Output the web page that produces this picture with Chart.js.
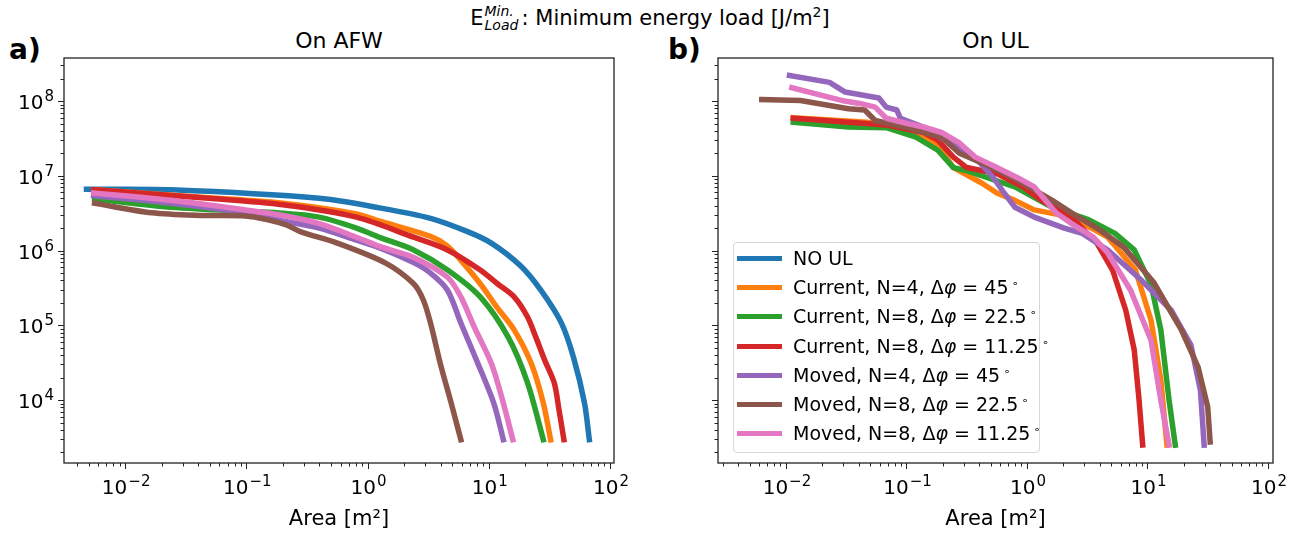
<!DOCTYPE html>
<html>
<head>
<meta charset="utf-8">
<script src="https://cdn.jsdelivr.net/npm/chart.js@4.4.1/dist/chart.umd.min.js"></script>
<style>
  html,body{margin:0;padding:0;background:#fff;}
  body{width:1300px;height:536px;position:relative;overflow:hidden;font-family:"DejaVu Sans",sans-serif;color:#000;}
  .panel{position:absolute;top:0;width:650px;height:536px;}
  .panel canvas{display:block;}
  .suptitle{position:absolute;left:0;width:1300px;top:4px;text-align:center;font-size:21px;line-height:1;white-space:nowrap;}
  .suptitle sup{font-size:14px;}
  .ss{position:relative;display:inline-block;width:38px;height:1em;}
  .ss i{position:absolute;left:1px;font-size:14px;line-height:1;}
  .axtitle{position:absolute;top:30px;font-size:22px;line-height:1;text-align:center;white-space:nowrap;}
  .tag{position:absolute;top:36px;font-weight:bold;font-size:28px;line-height:1;}
  .legend{position:absolute;left:733px;top:242px;width:305px;height:209px;border:1px solid #d6d6d6;border-radius:4px;background:rgba(255,255,255,0.8);}
  .legend .row{position:absolute;left:0;height:29px;width:100%;}
  .legend .swatch{position:absolute;left:3px;top:12px;width:45px;height:5px;}
  .legend .txt{position:absolute;left:59px;top:4px;font-size:19px;line-height:1.1;white-space:nowrap;}
  .legend sup{font-size:11px;vertical-align:7px;margin-left:3px;}
</style>
</head>
<body>
<div class="suptitle">E<span class="ss"><i style="top:0px">Min.</i><i style="top:14px">Load</i></span>: Minimum energy load [J/m<sup>2</sup>]</div>
<div class="tag" style="left:9px">a)</div>
<div class="tag" style="left:668px">b)</div>
<div class="axtitle" style="left:64px;width:550px">On AFW</div>
<div class="axtitle" style="left:718px;width:555px">On UL</div>
<div class="panel" style="left:0"><canvas id="afw" width="650" height="536"></canvas></div>
<div class="panel" style="left:650px"><canvas id="ul" width="650" height="536"></canvas></div>
<div class="legend" id="legend"></div>
<script>
// colours and legend labels, same order as the datasets
const colors = ['#1f77b4','#ff7f0e','#2ca02c','#d62728','#9467bd','#8c564b','#e377c2'];
const seriesLabels = [
  'NO UL',
  'Current, N=4, Δφ = 45°',
  'Current, N=8, Δφ = 22.5°',
  'Current, N=8, Δφ = 11.25°',
  'Moved, N=4, Δφ = 45°',
  'Moved, N=8, Δφ = 22.5°',
  'Moved, N=8, Δφ = 11.25°'
];

// axis ticks: decade values and the exponent shown as superscript of "10"
const xMajorTicks = [0.01, 0.1, 1, 10, 100];
const xTickExps = ['−2', '−1', '0', '1', '2'];
const yMajorTicks = [1e4, 1e5, 1e6, 1e7, 1e8];
const yTickExps = ['4', '5', '6', '7', '8'];

/* ---- a) On AFW : area [m2] vs minimum energy load [J/m2] ---- */
const afwNoUlArea = [0.0048, 0.024, 0.40, 1.29, 3.31, 6.76, 10.5, 18.2, 26.9, 39.8, 50.1, 61.7, 67.6];
const afwNoUlLoad = [6.6e6, 6.5e6, 5.0e6, 3.7e6, 2.7e6, 1.78e6, 1.26e6, 6.3e5, 2.95e5, 1.07e5, 3.7e4, 9.1e3, 2.95e3];
const afwCur4Area = [0.0055, 0.049, 0.20, 0.81, 1.29, 3.31, 4.57, 5.89, 8.51, 11.7, 16.2, 22.4, 28.2, 32.4];
const afwCur4Load = [6.5e6, 5.1e6, 4.3e6, 3.1e6, 2.45e6, 1.55e6, 1.15e6, 7.4e5, 3.6e5, 1.74e5, 8.7e4, 3.1e4, 9.1e3, 2.95e3];
const afwCur8Area = [0.0056, 0.024, 0.20, 0.40, 0.81, 1.29, 2.40, 4.57, 8.51, 14.5, 20.9, 28.2];
const afwCur8Load = [4.9e6, 3.8e6, 3.16e6, 2.8e6, 2.0e6, 1.48e6, 1.02e6, 5.5e5, 2.4e5, 6.9e4, 1.7e4, 2.95e3];
const afwCur16Area = [0.0055, 0.049, 0.20, 0.81, 2.40, 4.57, 8.51, 11.8, 16.2, 20.9, 24.5, 29.0, 34.7, 38.0, 41.7];
const afwCur16Load = [6.5e6, 5.0e6, 4.1e6, 2.8e6, 1.51e6, 1.02e6, 5.5e5, 3.6e5, 2.4e5, 1.29e5, 6.9e4, 3.4e4, 1.7e4, 7.4e3, 2.95e3];
const afwMov4Area = [0.0055, 0.024, 0.098, 0.20, 0.40, 0.81, 1.29, 2.40, 3.31, 4.57, 5.89, 8.13, 11.0, 13.2];
const afwMov4Load = [5.4e6, 4.3e6, 3.2e6, 2.5e6, 2.0e6, 1.38e6, 1.07e6, 6.9e5, 5.0e5, 2.95e5, 1.07e5, 3.1e4, 9.1e3, 2.95e3];
const afwMov8Area = [0.0056, 0.0166, 0.042, 0.098, 0.148, 0.214, 0.282, 0.562, 1.41, 2.40, 2.88, 3.31, 3.98, 4.90, 5.89];
const afwMov8Load = [4.3e6, 3.2e6, 2.95e6, 2.9e6, 2.6e6, 2.2e6, 1.78e6, 1.26e6, 6.8e5, 3.6e5, 2.2e5, 1.07e5, 3.1e4, 9.1e3, 2.95e3];
const afwMov16Area = [0.0055, 0.024, 0.098, 0.20, 0.40, 0.81, 1.29, 2.40, 4.57, 5.89, 7.59, 10.5, 13.2, 15.8];
const afwMov16Load = [5.9e6, 4.7e6, 3.5e6, 2.95e6, 2.3e6, 1.51e6, 1.12e6, 8.1e5, 4.4e5, 2.4e5, 9.5e4, 3.1e4, 9.1e3, 2.95e3];

/* ---- b) On UL (no "NO UL" curve here) ---- */
const ulCur4Area = [0.0115, 0.047, 0.096, 0.182, 0.245, 0.275, 0.427, 0.562, 0.794, 1.15, 2.34, 4.68, 7.94, 10.7, 12.9, 14.5];
const ulCur4Load = [6.0e7, 5.2e7, 4.1e7, 2.6e7, 1.29e7, 1.17e7, 7.9e6, 5.9e6, 4.7e6, 3.5e6, 2.8e6, 1.51e6, 5.5e5, 1.17e5, 1.86e4, 2.5e3];
const ulCur8Area = [0.0115, 0.033, 0.068, 0.120, 0.182, 0.245, 0.316, 0.794, 1.62, 3.24, 5.37, 7.76, 10.7, 12.9, 15.1, 17.0];
const ulCur8Load = [5.2e7, 4.5e7, 4.4e7, 3.3e7, 2.2e7, 1.29e7, 1.17e7, 7.1e6, 3.8e6, 2.6e6, 1.7e6, 1.02e6, 3.5e5, 8.7e4, 1.0e4, 2.5e3];
const ulCur16Area = [0.0115, 0.033, 0.068, 0.138, 0.182, 0.245, 0.316, 0.562, 0.933, 1.32, 2.34, 3.80, 5.13, 6.61, 7.76, 8.51, 9.12];
const ulCur16Load = [5.9e7, 5.2e7, 4.8e7, 3.8e7, 3.0e7, 1.78e7, 1.29e7, 1.07e7, 7.1e6, 4.7e6, 2.8e6, 1.26e6, 5.5e5, 1.58e5, 4.7e4, 1.0e4, 2.5e3];
const ulMov4Area = [0.0107, 0.023, 0.031, 0.059, 0.068, 0.083, 0.089, 0.138, 0.209, 0.275, 0.389, 0.525, 0.646, 0.794, 1.15, 2.04, 2.88, 4.68, 8.91, 15.8, 22.9, 27.5, 29.5];
const ulMov4Load = [2.2e8, 1.78e8, 1.32e8, 1.10e8, 8.3e7, 7.6e7, 5.9e7, 4.5e7, 3.0e7, 2.4e7, 1.62e7, 9.5e6, 5.9e6, 3.8e6, 2.8e6, 2.0e6, 1.7e6, 1.02e6, 4.0e5, 1.58e5, 5.5e4, 1.35e4, 2.5e3];
const ulMov8Area = [0.0063, 0.0132, 0.033, 0.045, 0.055, 0.102, 0.195, 0.275, 0.427, 0.759, 1.15, 1.62, 2.34, 4.07, 6.31, 11.2, 19.1, 26.3, 31.6, 33.1];
const ulMov8Load = [1.05e8, 1.02e8, 7.9e7, 7.6e7, 5.5e7, 4.4e7, 3.3e7, 2.0e7, 1.48e7, 9.5e6, 6.5e6, 4.7e6, 3.2e6, 1.86e6, 1.12e6, 3.8e5, 8.7e4, 2.75e4, 8.1e3, 2.75e3];
const ulMov16Area = [0.0112, 0.023, 0.029, 0.041, 0.055, 0.068, 0.102, 0.138, 0.195, 0.275, 0.372, 0.562, 0.851, 1.15, 1.74, 2.34, 3.55, 4.68, 7.24, 10.7, 12.9, 15.1];
const ulMov16Load = [1.51e8, 1.12e8, 1.02e8, 9.3e7, 8.3e7, 5.9e7, 5.0e7, 4.5e7, 3.8e7, 2.75e7, 1.78e7, 1.29e7, 9.3e6, 7.1e6, 3.2e6, 2.3e6, 1.51e6, 9.3e5, 2.95e5, 6.3e4, 1.0e4, 2.5e3];

const FONT = '"DejaVu Sans", sans-serif';
Chart.defaults.font.family = FONT;
Chart.defaults.color = '#000';

const isMajor = v => Math.abs(Math.log10(v) - Math.round(Math.log10(v))) < 1e-9;

// major decades plus 2..9 minor ticks, also one decade below the first major
function logTicks(majors, min, max){
  const out = [];
  const decades = [majors[0] / 10].concat(majors);
  decades.forEach(d => {
    for (let m = 1; m <= 9; m++){
      const v = d * m;
      if (v >= min && v <= max) out.push({value: v, major: m === 1});
    }
  });
  return out;
}

// draws "10" with a raised exponent, like matplotlib mathtext
function drawPow(ctx, exp, x, baseline, align){
  ctx.font = '20px ' + FONT;
  const wb = ctx.measureText('10').width;
  ctx.font = '15px ' + FONT;
  const we = ctx.measureText(exp).width;
  const total = wb + 1 + we;
  const left = align === 'right' ? x - total : x - total / 2;
  ctx.textAlign = 'left';
  ctx.textBaseline = 'alphabetic';
  ctx.font = '20px ' + FONT;
  ctx.fillText('10', left, baseline);
  ctx.font = '15px ' + FONT;
  ctx.fillText(exp, left + wb + 1, baseline - 8);
}

// frame, outward tick marks and decade labels
const frameTicks = {
  id: 'frameTicks',
  afterDatasetsDraw(chart, args, opts){
    const {ctx, chartArea: a, scales} = chart;
    ctx.save();
    ctx.strokeStyle = '#222';
    ctx.lineWidth = 1.3;
    ctx.strokeRect(a.left, a.top, a.right - a.left, a.bottom - a.top);
    ctx.lineWidth = 1;
    scales.x.ticks.forEach(t => {
      const p = Math.round(scales.x.getPixelForValue(t.value)) + 0.5;
      if (p < a.left || p > a.right) return;
      const len = isMajor(t.value) ? 6 : 3.5;
      ctx.beginPath(); ctx.moveTo(p, a.bottom); ctx.lineTo(p, a.bottom + len); ctx.stroke();
    });
    scales.y.ticks.forEach(t => {
      const p = Math.round(scales.y.getPixelForValue(t.value)) + 0.5;
      if (p < a.top || p > a.bottom) return;
      const len = isMajor(t.value) ? 6 : 3.5;
      ctx.beginPath(); ctx.moveTo(a.left, p); ctx.lineTo(a.left - len, p); ctx.stroke();
    });
    ctx.fillStyle = '#000';
    xMajorTicks.forEach((v, i) => {
      drawPow(ctx, xTickExps[i], scales.x.getPixelForValue(v) + 1, a.bottom + 31, 'center');
    });
    if (opts.yLabels){
      yMajorTicks.forEach((v, i) => {
        drawPow(ctx, yTickExps[i], a.left - 10, scales.y.getPixelForValue(v) + 8, 'right');
      });
    }
    ctx.restore();
  }
};

function makeDataset(i, xs, ys, smooth){
  return {
    label: seriesLabels[i],
    data: xs.map((x, k) => ({x: x, y: ys[k]})),
    borderColor: colors[i],
    borderWidth: 5.5,
    borderCapStyle: 'square',
    borderJoinStyle: 'round',
    pointRadius: 0,
    fill: false,
    tension: smooth ? 0.3 : 0,
    order: 6 - i
  };
}

function makeChart(id, datasets, xr, yAxisWidth, rightPad, showYLabels){
  return new Chart(document.getElementById(id), {
    type: 'line',
    data: {datasets: datasets},
    options: {
      responsive: false,
      animation: false,
      events: [],
      layout: {padding: {top: 58, right: rightPad, bottom: 0, left: 0}},
      plugins: {
        legend: {display: false}, tooltip: {enabled: false}, title: {display: false},
        frameTicks: {yLabels: showYLabels}
      },
      scales: {
        x: {
          type: 'logarithmic', min: xr[0], max: xr[1],
          afterBuildTicks: s => { s.ticks = logTicks(xMajorTicks, s.min, s.max); },
          afterFit: s => { s.height = 73; },
          grid: {display: false, drawTicks: false},
          border: {display: false},
          ticks: {display: false, autoSkip: false},
          title: {display: true, text: 'Area [m²]', font: {size: 21}, padding: {top: 0, bottom: 4}}
        },
        y: {
          type: 'logarithmic', min: 1.44e3, max: 3.77e8,
          afterBuildTicks: s => { s.ticks = logTicks(yMajorTicks, s.min, s.max); },
          afterFit: s => { s.width = yAxisWidth; },
          grid: {display: false, drawTicks: false},
          border: {display: false},
          ticks: {display: false, autoSkip: false}
        }
      }
    },
    plugins: [frameTicks]
  });
}

makeChart('afw', [
  makeDataset(0, afwNoUlArea, afwNoUlLoad, true),
  makeDataset(1, afwCur4Area, afwCur4Load, true),
  makeDataset(2, afwCur8Area, afwCur8Load, true),
  makeDataset(3, afwCur16Area, afwCur16Load, true),
  makeDataset(4, afwMov4Area, afwMov4Load, true),
  makeDataset(5, afwMov8Area, afwMov8Load, true),
  makeDataset(6, afwMov16Area, afwMov16Load, true)
], [0.00313, 108], 64, 36, true);

makeChart('ul', [
  makeDataset(1, ulCur4Area, ulCur4Load, false),
  makeDataset(2, ulCur8Area, ulCur8Load, false),
  makeDataset(3, ulCur16Area, ulCur16Load, false),
  makeDataset(4, ulMov4Area, ulMov4Load, false),
  makeDataset(5, ulMov8Area, ulMov8Load, false),
  makeDataset(6, ulMov16Area, ulMov16Load, false)
], [0.00273, 110], 68, 27, false);

// legend box inside panel b)
const legendEl = document.getElementById('legend');
seriesLabels.forEach((lab, i) => {
  const row = document.createElement('div');
  row.className = 'row';
  row.style.top = (1 + i * 29.2) + 'px';
  const html = lab.replace('φ', '<i>φ</i>').replace('°', '<sup>∘</sup>');
  row.innerHTML = `<div class="swatch" style="background:${colors[i]}"></div><div class="txt">${html}</div>`;
  legendEl.appendChild(row);
});
</script>
</body>
</html>
